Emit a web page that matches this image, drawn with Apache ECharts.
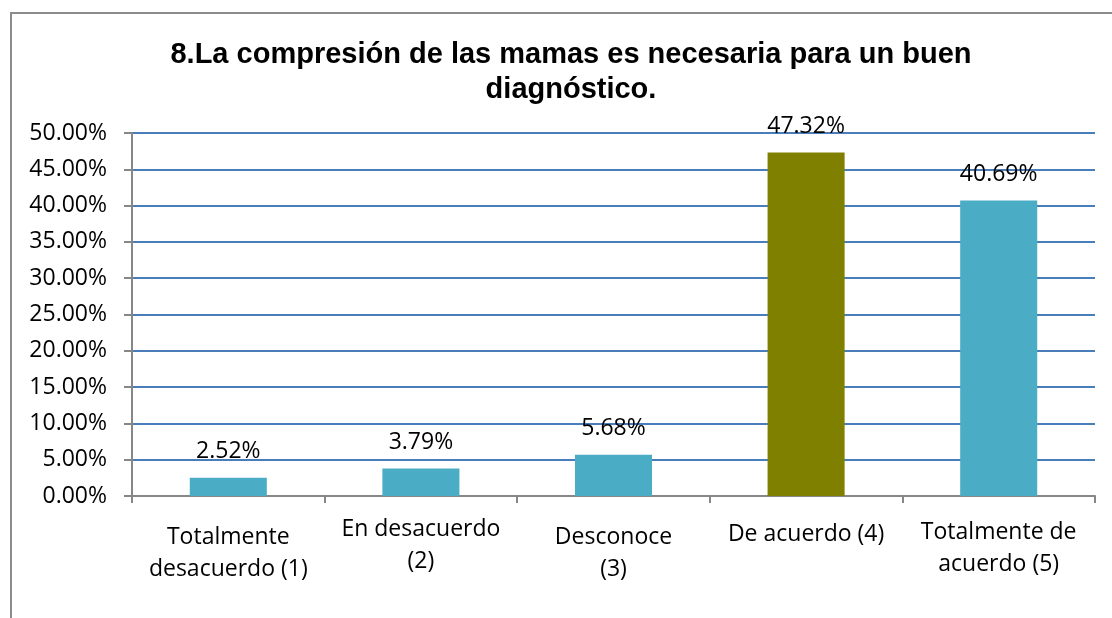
<!DOCTYPE html>
<html>
<head>
<meta charset="utf-8">
<script src="https://cdn.jsdelivr.net/npm/echarts@6/dist/echarts.min.js"></script>
<style>
    html, body { margin: 0; padding: 0; background: #fff; }
    .frame {
        position: absolute; left: 10px; top: 12px;
        width: 1200px; height: 700px;
        border-left: 2px solid #8c8c8c;
        border-top: 2px solid #8c8c8c;
    }
    #myChart { position: absolute; left: 0; top: 0; width: 1112px; height: 618px; }
</style>
</head>
<body>
<div class="frame"></div>
<div id="myChart"></div>
<script>
// datos del gráfico
var categorias = ['Totalmente\ndesacuerdo (1)', 'En desacuerdo\n(2)', 'Desconoce\n(3)', 'De acuerdo (4)', 'Totalmente de\nacuerdo (5)'];
var porcentajes = [2.52, 3.79, 5.68, 47.32, 40.69];
var destacado = 3;   // barra de otro color
var yMin = 0, yMax = 50, yPaso = 5;

// desplazamiento vertical de cada etiqueta del eje x (como en Excel)
var despEtiqueta = [8, 0, 8, 5, 3];

var fuente = '"Open Sans", "Noto Sans", sans-serif';

var myChart = echarts.init(document.getElementById('myChart'));
myChart.setOption({
    animation: false,
    title: {
        text: '8.La compresión de las mamas es necesaria para un buen\ndiagnóstico.',
        left: 566,
        top: 32,
        textAlign: 'center',
        textStyle: {
            fontFamily: '"Liberation Sans", Arial, sans-serif',
            fontWeight: 'bold',
            fontSize: 29,
            lineHeight: 35,
            color: '#000'
        }
    },
    grid: { left: 132, right: 17, top: 133, bottom: 122 },
    xAxis: {
        type: 'category',
        data: categorias.map(function (c, i) {
            return { value: c, textStyle: { padding: [despEtiqueta[i], 0, 0, 0] } };
        }),
        axisLine: { lineStyle: { color: '#878787', width: 2 } },
        axisTick: { show: true, length: 7, lineStyle: { color: '#878787', width: 2 } },
        axisLabel: {
            interval: 0,
            margin: 17,
            fontFamily: fuente,
            fontSize: 23,
            lineHeight: 32,
            color: '#000'
        }
    },
    yAxis: {
        type: 'value',
        min: yMin,
        max: yMax,
        interval: yPaso,
        axisLine: { show: true, lineStyle: { color: '#878787', width: 2 } },
        axisTick: { show: true, length: 8, lineStyle: { color: '#878787', width: 2 } },
        splitLine: { lineStyle: { color: '#4a7ebb', width: 2 } },
        axisLabel: {
            margin: 25,
            fontFamily: fuente,
            fontSize: 23,
            color: '#000',
            formatter: function (v) { return v.toFixed(2) + '%'; }
        }
    },
    series: [{
        type: 'bar',
        barCategoryGap: '60%',
        data: porcentajes.map(function (v, i) {
            return { value: v, itemStyle: { color: i === destacado ? '#808000' : '#4bacc6' } };
        }),
        label: {
            show: true,
            position: 'top',
            distance: 15,
            fontFamily: fuente,
            fontSize: 23,
            color: '#000',
            formatter: function (p) { return p.value.toFixed(2) + '%'; }
        }
    }]
});
</script>
</body>
</html>
